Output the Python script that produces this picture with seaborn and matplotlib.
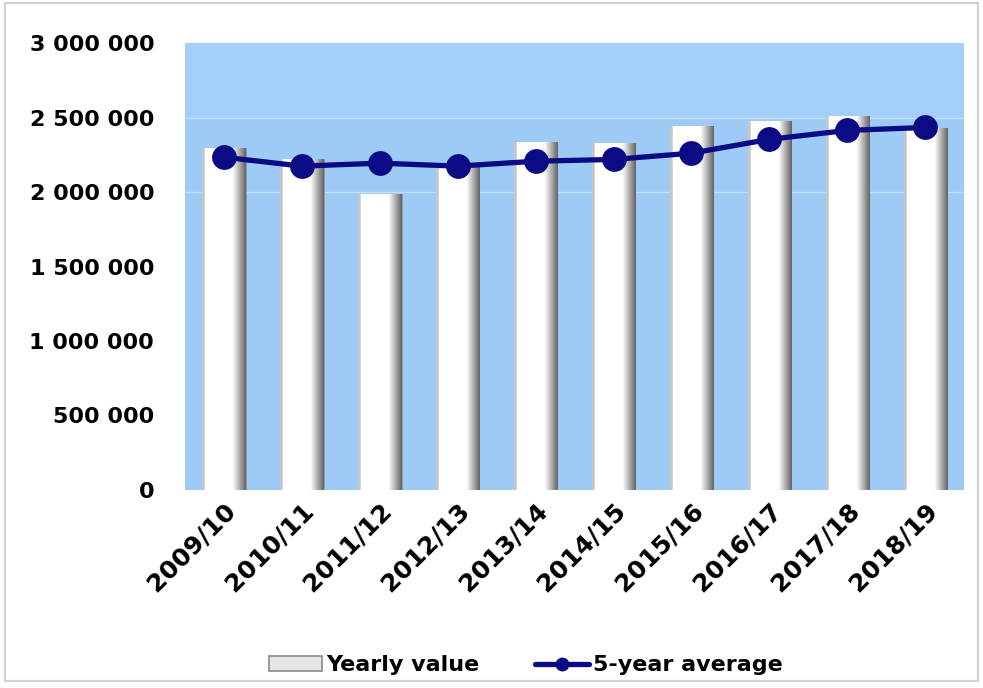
import matplotlib
matplotlib.use("Agg")
import matplotlib.pyplot as plt
import numpy as np
import pandas as pd
import seaborn as sns
from matplotlib.patches import Patch, Rectangle
from matplotlib.lines import Line2D
from matplotlib.ticker import FuncFormatter

seasons = ["2009/10", "2010/11", "2011/12", "2012/13", "2013/14",
           "2014/15", "2015/16", "2016/17", "2017/18", "2018/19"]
yearly = [2295000, 2220000, 1990000, 2170000, 2340000,
          2330000, 2445000, 2480000, 2510000, 2430000]
avg5 = [2235000, 2175000, 2195000, 2175000, 2208000,
        2220000, 2262000, 2355000, 2415000, 2435000]

df = pd.DataFrame({"season": seasons, "yearly": yearly, "avg5": avg5})

sns.set_style("white")
plt.rcParams["font.family"] = ["DejaVu Sans"]
plt.rcParams["text.color"] = "black"

fig = plt.figure(figsize=(9.83, 6.88), dpi=100)
ax = fig.add_axes([0.188, 0.288, 0.793, 0.649])
ax.set_facecolor("#9dcbf6")

sns.barplot(data=df, x="season", y="yearly", color="white", width=0.56,
            saturation=1, edgecolor="#8a8a8a", linewidth=0.6, ax=ax, zorder=2)
bars = list(ax.containers[0])

# slightly lighter band at the top of the plot area + faint grid
ax.axhspan(2500000, 3000000, color="#a3cff8", zorder=0)
for v in (2000000, 2500000):
    ax.axhline(v, color="#c4e0f8", lw=1.0, zorder=0.5)

# cylinder-like shading of the bars
grad_x = np.linspace(0, 1, 64)
shade = np.where(grad_x < 0.06, 0.78,
                 np.where(grad_x < 0.7, 1.0, 1.0 - (grad_x - 0.7) / 0.3 * 0.6))
img = np.dstack([shade, shade, shade]).repeat(2, axis=0)
for p in bars:
    x0, y0 = p.get_x(), p.get_y()
    w, h = p.get_width(), p.get_height()
    im = ax.imshow(img, extent=[x0, x0 + w, y0, y0 + h], aspect="auto",
                   zorder=2.5, interpolation="bilinear")
    im.set_clip_path(p)

sns.pointplot(data=df, x="season", y="avg5", color="#0b0b85", markers="o",
              markersize=15, linewidth=3.8, ax=ax, zorder=4)

ax.set_xlim(-0.5, 9.5)
ax.set_ylim(0, 3000000)
ax.set_yticks(range(0, 3000001, 500000))
ax.yaxis.set_major_formatter(FuncFormatter(lambda v, _: f"{int(v):,}".replace(",", " ")))
ax.set_xlabel("")
ax.set_ylabel("")
ax.tick_params(axis="y", labelsize=16, pad=22, length=0, labelcolor="black")
ax.tick_params(axis="x", labelsize=18, pad=6, length=0, labelcolor="black")
for lab in ax.get_yticklabels():
    lab.set_fontweight("bold")
for lab in ax.get_xticklabels():
    lab.set_fontweight("bold")
    lab.set_rotation(45)
    lab.set_ha("right")
    lab.set_rotation_mode("anchor")
for s in ax.spines.values():
    s.set_visible(False)

handles = [
    Patch(facecolor="#e6e6e6", edgecolor="#8a8a8a", linewidth=1.2),
    Line2D([0], [0], color="#0b0b85", lw=3.8, marker="o", markersize=9),
]
leg = fig.legend(handles, ["Yearly value", "5-year average"], loc="center",
                 bbox_to_anchor=(0.535, 0.033), ncol=2, frameon=False,
                 prop={"size": 16, "weight": "bold"}, handlelength=2.4,
                 handletextpad=0.2, columnspacing=2.5)
for t in leg.get_texts():
    t.set_color("black")

fig.patches.append(Rectangle((0.005, 0.01), 0.99, 0.985, transform=fig.transFigure,
                             fill=False, edgecolor="#d0d0d0", lw=1.5))

fig.savefig("out.png", dpi=100)
